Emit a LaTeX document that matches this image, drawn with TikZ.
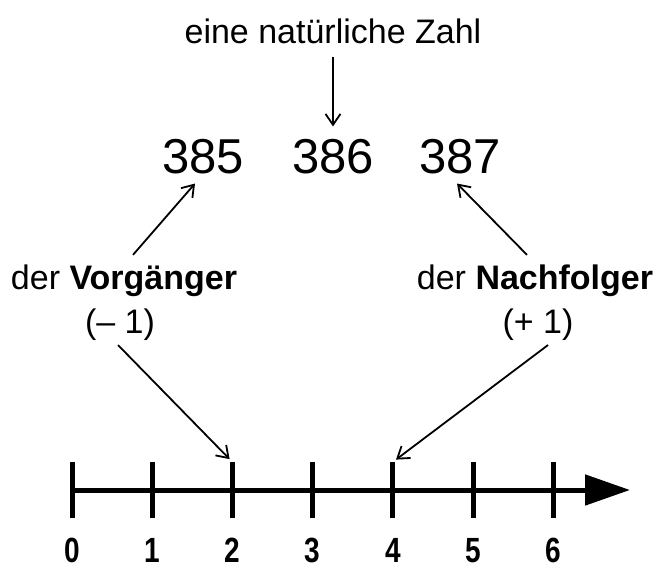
\documentclass[tikz,border=0pt]{standalone}
\usepackage{fontspec}
\setmainfont{Liberation Sans}
\usetikzlibrary{arrows.meta}
\tikzset{
    word/.style={font=\fontsize{34}{40}\selectfont, inner sep=1pt},
    number/.style={font=\fontsize{49}{56}\selectfont, inner sep=1pt},
    ticklabel/.style={font=\fontsize{35}{40}\selectfont\bfseries\addfontfeature{FakeStretch=0.8}, inner sep=0, anchor=base},
    pointer/.style={-{Straight Barb[length=11pt,width=15pt]}, line width=1.8pt}
}

\begin{document}
\begin{tikzpicture}[x=1pt,y=-1pt]
    \useasboundingbox (0,0) rectangle (654,570);
    \node[word] (zahl) at (333,31) {eine natürliche Zahl};
    \node[number] (n385) at (203,157) {385};
    \node[number] (n386) at (333,157) {386};
    \node[number] (n387) at (460,157) {387};
    \node[word] (vorg) at (124,281) {der \textbf{Vorgänger}};
    \node[word] (vorgzahl) at (120,325) {(– 1)};
    \node[word] (nach) at (535,281) {der \textbf{Nachfolger}};
    \node[word] (nachzahl) at (538,325) {(+ 1)};
    % Zahlenstrahl
    \draw[line width=5pt, -{Triangle[length=45pt,width=30pt]}] (72,490) -- (630,490);
    \foreach \i in {0,...,6} {
        \draw[line width=5pt] (72+80.2*\i,462) coordinate (top\i) -- (72+80.2*\i,518);
        \node[ticklabel] (z\i) at (72+80.2*\i,562) {\i};
    }
    \draw[pointer, shorten <=12pt, shorten >=12pt] (zahl.south) -- (n386.north);
    \draw[pointer] ([xshift=9pt,yshift=9pt]vorg.north) -- ([xshift=-8pt,yshift=-8pt]n385.south);
    \draw[pointer] ([xshift=-8pt,yshift=9pt]nach.north) -- ([xshift=-3pt,yshift=-8pt]n387.south);
    \draw[pointer, shorten >=4pt] ([xshift=-2pt,yshift=-3pt]vorgzahl.south) -- (top2);
    \draw[pointer, shorten >=4pt] ([xshift=10pt,yshift=-3pt]nachzahl.south) -- (top4);
\end{tikzpicture}
\end{document}
